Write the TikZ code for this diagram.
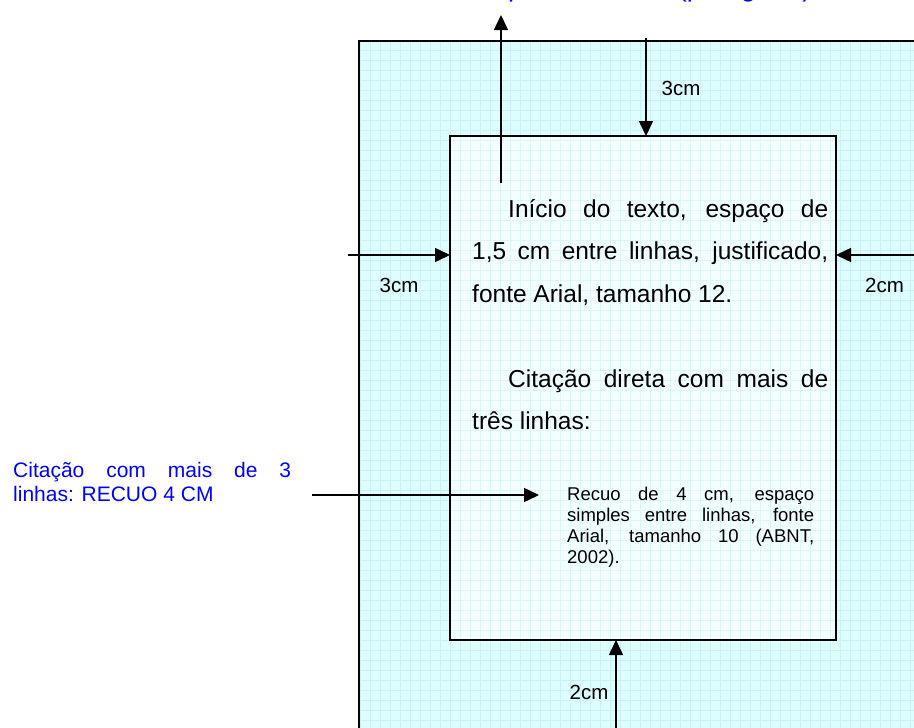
\documentclass[tikz,border=0pt]{standalone}
\usepackage{fontspec}
\setmainfont{Liberation Sans}
\usetikzlibrary{arrows.meta}
\definecolor{bgc}{HTML}{DEFDFE}
\definecolor{gridc}{HTML}{CBF1F4}
\definecolor{innerc}{HTML}{F2FEFF}
\definecolor{innergrid}{HTML}{DEF6F8}
\definecolor{lblue}{HTML}{0000FF}
\tikzset{
  arr/.style={line width=1.6pt, -{Triangle[length=15pt,width=14pt]}},
  frame/.style={line width=1.6pt},
  body/.style={inner sep=0pt, anchor=base west, font=\fontsize{24.5}{28}\selectfont},
  small/.style={inner sep=0pt, anchor=base west, font=\fontsize{18.5}{21}\selectfont},
  lbl/.style={inner sep=0pt, anchor=base, font=\fontsize{20.5}{24}\selectfont},
  bluetxt/.style={inner sep=0pt, anchor=base west, text=lblue, font=\fontsize{21}{24}\selectfont},
}
\begin{document}
\begin{tikzpicture}[x=1pt,y=-1pt]
\useasboundingbox (0,0) rectangle (914,728);
% outer page
\fill[bgc] (359,41) rectangle (930,740);
\draw[gridc, line width=0.5pt, step=10pt] (359,41) grid (930,740);
\draw[frame] (930,41) -- (359,41) -- (359,740);
% inner text area
\node[fill=innerc, minimum width=386pt, minimum height=504pt, inner sep=0pt, outer sep=0pt] (inner) at (643,388) {};
\begin{scope}
\clip (inner.north west) rectangle (inner.south east);
\draw[innergrid, line width=0.5pt, step=10pt] (440,125) grid (845,650);
\end{scope}
\draw[frame] (inner.north west) rectangle (inner.south east);
% cut text at the top
\node[inner sep=0pt, anchor=base west, text=lblue, font=\fontsize{27}{31}\selectfont] (toptxt) at (385,-3) {Recuo da primeira linha (parágrafo) = 1,25 cm};
% arrows
\coordinate (upS) at (501,183);
\coordinate (upE) at (501,15);
\draw[arr] (upS) -- (upE);
\coordinate (tS) at (646,38);
\draw[arr] (tS) -- (tS |- inner.north);
\coordinate (lS) at (348,255);
\draw[arr] (lS) -- (lS -| inner.west);
\coordinate (rS) at (914,255);
\draw[arr] (rS) -- (rS -| inner.east);
\coordinate (bS) at (616,728);
\draw[arr] (bS) -- (bS |- inner.south);
\coordinate (cS) at (312,495);
\coordinate (cE) at (539,495);
\draw[arr] (cS) -- (cE);
% margin labels
\node[lbl] (m3top) at (681,95) {3cm};
\node[lbl] (m3left) at (399,292) {3cm};
\node[lbl] (m2right) at (884.5,292) {2cm};
\node[lbl] (m2bot) at (589,699) {2cm};
% body text
\node[body] (b1) at (508,217) {\makebox[320pt][s]{Início do texto, espaço de}};
\node[body] (b2) at (472,259.5) {\makebox[356pt][s]{1,5 cm entre linhas, justificado,}};
\node[body] (b3) at (472,302) {fonte Arial, tamanho 12.};
\node[body] (b4) at (508,387) {\makebox[320pt][s]{Citação direta com mais de}};
\node[body] (b5) at (472,429.5) {três linhas:};
% quotation
\node[small] (q1) at (567,500.5) {\makebox[247pt][s]{Recuo de 4 cm, espaço}};
\node[small] (q2) at (567,521.5) {\makebox[247pt][s]{simples entre linhas, fonte}};
\node[small] (q3) at (567,542.5) {\makebox[247pt][s]{Arial, tamanho 10 (ABNT,}};
\node[small] (q4) at (567,563.5) {2002).};
% blue side label
\node[bluetxt] (s1) at (13,477) {\makebox[278pt][s]{Citação com mais de 3}};
\node[bluetxt] (s2) at (13,501) {linhas: RECUO 4 CM};
\end{tikzpicture}
\end{document}
